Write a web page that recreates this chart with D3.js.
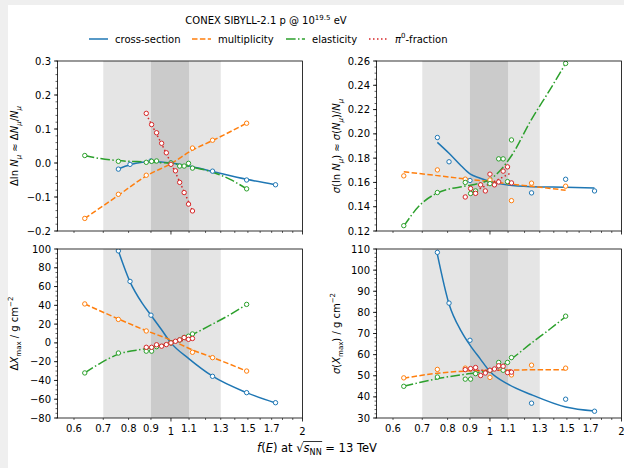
<!DOCTYPE html>
<html>
<head>
<meta charset="utf-8">
<script src="https://cdn.jsdelivr.net/npm/d3@7"></script>
<style>
  body { margin: 0; background: #efefef; }
  svg { display: block; font-family: "DejaVu Sans", sans-serif; }
</style>
</head>
<body>
<svg id="chart" width="624" height="468"></svg>
<script>
// ---- data ------------------------------------------------------------------
const seriesNames = ["cross-section", "multiplicity", "elasticity", "π0-fraction"];
const seriesColors = ["#1f77b4", "#ff7f0e", "#2ca02c", "#d62728"];

// f(E) of the simulated points for each modified quantity
const fSigma = [0.758, 0.806, 0.9, 1.0, 1.245, 1.49, 1.735];
const fMult = [0.635, 0.758, 0.878, 1.0, 1.12, 1.245, 1.49];
const fElast = [0.635, 0.758, 0.878, 0.903, 0.927, 1.0, 1.047, 1.072, 1.097, 1.12, 1.49];
const fPi0 = [0.878, 0.903, 0.927, 0.952, 0.976, 1.0, 1.024, 1.047, 1.072, 1.097, 1.12];

// f(E) knots of the fitted curves
const fitFSigma = [0.758, 0.806, 0.86, 0.9, 0.95, 1.0, 1.1, 1.245, 1.49, 1.735];
const fitFMult = [0.635, 0.758, 0.878, 1.0, 1.12, 1.245, 1.49];
const fitFElast = [0.635, 0.69, 0.758, 0.878, 0.94, 1.0, 1.05, 1.12, 1.245, 1.37, 1.49];
const fitFPi0 = [0.878, 1.0, 1.12];

// Delta ln N_mu
const lnNmuSigma = [-0.018, -0.004, 0.006, 0.0, -0.024, -0.050, -0.064];
const lnNmuMult = [-0.163, -0.092, -0.036, -0.002, 0.044, 0.067, 0.117];
const lnNmuElast = [0.022, 0.005, 0.002, 0.005, 0.006, 0.0, -0.009, -0.009, -0.001, -0.015, -0.076];
const lnNmuPi0 = [0.146, 0.113, 0.089, 0.058, 0.030, -0.004, -0.023, -0.057, -0.087, -0.121, -0.141];
const lnNmuSigmaFit = [-0.017, -0.005, 0.002, 0.004, 0.003, 0.0, -0.009, -0.025, -0.048, -0.064];
const lnNmuMultFit = [-0.163, -0.095, -0.038, -0.002, 0.038, 0.066, 0.117];
const lnNmuElastFit = [0.022, 0.013, 0.007, 0.003, 0.001, -0.001, -0.005, -0.012, -0.027, -0.049, -0.076];
const lnNmuPi0Fit = [0.143, 0.0, -0.140];

// sigma(ln N_mu)
const sdNmuSigma = [0.197, 0.177, 0.1616, 0.160, 0.1514, 0.1626, 0.153];
const sdNmuMult = [0.1654, 0.1703, 0.1627, 0.162, 0.145, 0.1594, 0.1569];
const sdNmuElast = [0.1244, 0.1517, 0.160, 0.1509, 0.153, 0.159, 0.1794, 0.1794, 0.1607, 0.195, 0.258];
const sdNmuPi0 = [0.148, 0.155, 0.151, 0.158, 0.153, 0.1668, 0.158, 0.1604, 0.1693, 0.1728, 0.1596];
const sdNmuSigmaFit = [0.193, 0.184, 0.1735, 0.167, 0.1635, 0.1608, 0.1578, 0.1565, 0.156, 0.1555];
const sdNmuMultFit = [0.1687, 0.1656, 0.1629, 0.1607, 0.1586, 0.1568, 0.1536];
const sdNmuElastFit = [0.124, 0.141, 0.1513, 0.157, 0.159, 0.1625, 0.169, 0.182, 0.212, 0.236, 0.258];
const sdNmuPi0Fit = [0.149, 0.159, 0.168];

// Delta Xmax
const xmaxSigma = [98, 65.5, 29.5, 0, -35.6, -53, -63.7];
const xmaxMult = [41.5, 25, 12.7, 0, -10, -15.7, -30];
const xmaxElast = [-32, -10.8, -8.8, -8.8, -4, 0, 3, 5.8, 7.1, 9.5, 41];
const xmaxPi0 = [-4.7, -4.7, -2, -3.5, -1.8, 0, 1.7, 3.2, 5.7, 3.8, 4.7];
const xmaxSigmaFit = [98, 65, 42, 29.5, 14.5, 0, -17, -35.5, -53, -64];
const xmaxMultFit = [41.5, 25.5, 13, 3, -7.5, -15.5, -30];
const xmaxElastFit = [-32, -21.5, -12, -6, -3, 0, 3.5, 9, 20, 30.5, 41];
const xmaxPi0Fit = [-5.5, 0, 4.5];

// sigma(Xmax)
const sdXmaxSigma = [108.4, 84.4, 66.8, 52.5, 37, 38.9, 33.2];
const sdXmaxMult = [49, 53, 53.6, 49.2, 50.4, 55, 53.6];
const sdXmaxElast = [45, 49.4, 48.4, 48.4, 51, 52.5, 56.3, 52.6, 56.3, 58.6, 78.2];
const sdXmaxPi0 = [52.9, 53.4, 53.9, 50.1, 51.3, 52.6, 53.2, 54.7, 54.5, 51.5, 51.7];
const sdXmaxSigmaFit = [107.5, 84, 71, 64.5, 58, 52, 46, 41, 35.2, 33.3];
const sdXmaxMultFit = [48.8, 51.2, 52.2, 52.5, 52.7, 52.8, 52.8];
const sdXmaxElastFit = [45, 46.8, 48.6, 50.7, 51.5, 52.5, 54, 58, 65.5, 72, 78];
const sdXmaxPi0Fit = [52.5, 52.6, 52.6];

// ticks
const xTickLabels = [0.6, 0.7, 0.8, 0.9, 1, 1.1, 1.3, 1.5, 1.7, 2];
const xMajorTicks = [1, 2];
const xMinorTicks = [0.6, 0.7, 0.8, 0.9, 1.1, 1.2, 1.3, 1.4, 1.5, 1.6, 1.7, 1.8, 1.9];
const yTicksLnNmu = [-0.2, -0.1, 0, 0.1, 0.2, 0.3];
const yTicksSdNmu = [0.12, 0.14, 0.16, 0.18, 0.20, 0.22, 0.24, 0.26];
const yTicksXmax = [-80, -60, -40, -20, 0, 20, 40, 60, 80, 100];
const yTicksSdXmax = [30, 40, 50, 60, 70, 80, 90, 100, 110];

// bands of the f(E) plausible ranges
const bandOuter = [0.7, 1.3];
const bandInner = [0.9, 1.1];

// ---- drawing ---------------------------------------------------------------
const W = 624, H = 468;
const FS = 10;
const svg = d3.select("#chart");

svg.append("rect").attr("x", 8).attr("y", 5)
  .attr("width", W - 8).attr("height", H - 5).attr("fill", "#fff");

// append text parts (italic / sub / sup) into a text element
function rich(text, parts, fs) {
  let shift = 0;
  parts.forEach((p) => {
    const ts = text.append("tspan").text(p.t);
    const target = p.sub ? fs * 0.3 : p.sup ? -fs * 0.42 : 0;
    if (target !== shift) {
      ts.attr("dy", target - shift);
      shift = target;
    }
    if (p.sub || p.sup) ts.attr("font-size", fs * 0.7);
    if (p.i) ts.attr("font-style", "italic");
  });
  return text;
}

const dashes = [null, "5.5,2.4", "9.6,2.4,1.5,2.4", "1.5,2.5"];

const panels = [
  {
    left: 57.5, top: 61, h: 170, yDomain: [-0.2, 0.3], ticks: yTicksLnNmu, minor: 0.02,
    fmt: d3.format(".1f"), labelX: 14, xLabels: false,
    label: [{ t: "Δln " }, { t: "N", i: 1 }, { t: "μ", i: 1, sub: 1 }, { t: " ≈ Δ" },
      { t: "N", i: 1 }, { t: "μ", i: 1, sub: 1 }, { t: "/" }, { t: "N", i: 1 }, { t: "μ", i: 1, sub: 1 }],
    pts: [lnNmuSigma, lnNmuMult, lnNmuElast, lnNmuPi0],
    fits: [lnNmuSigmaFit, lnNmuMultFit, lnNmuElastFit, lnNmuPi0Fit],
  },
  {
    left: 376.5, top: 61, h: 170, yDomain: [0.12, 0.26], ticks: yTicksSdNmu, minor: 0.005,
    fmt: d3.format(".2f"), labelX: 336, xLabels: false,
    label: [{ t: "σ", i: 1 }, { t: "(ln " }, { t: "N", i: 1 }, { t: "μ", i: 1, sub: 1 }, { t: ") ≈ " },
      { t: "σ", i: 1 }, { t: "(" }, { t: "N", i: 1 }, { t: "μ", i: 1, sub: 1 }, { t: ")/" },
      { t: "N", i: 1 }, { t: "μ", i: 1, sub: 1 }],
    pts: [sdNmuSigma, sdNmuMult, sdNmuElast, sdNmuPi0],
    fits: [sdNmuSigmaFit, sdNmuMultFit, sdNmuElastFit, sdNmuPi0Fit],
  },
  {
    left: 57.5, top: 249, h: 169, yDomain: [-80, 100], ticks: yTicksXmax, minor: 5,
    fmt: d3.format("d"), labelX: 14, xLabels: true,
    label: [{ t: "Δ" }, { t: "X", i: 1 }, { t: "max", sub: 1 }, { t: " / g cm" }, { t: "−2", sup: 1 }],
    pts: [xmaxSigma, xmaxMult, xmaxElast, xmaxPi0],
    fits: [xmaxSigmaFit, xmaxMultFit, xmaxElastFit, xmaxPi0Fit],
  },
  {
    left: 376.5, top: 249, h: 169, yDomain: [30, 110], ticks: yTicksSdXmax, minor: 2,
    fmt: d3.format("d"), labelX: 336, xLabels: true,
    label: [{ t: "σ", i: 1 }, { t: "(" }, { t: "X", i: 1 }, { t: "max", sub: 1 }, { t: ") / g cm" }, { t: "−2", sup: 1 }],
    pts: [sdXmaxSigma, sdXmaxMult, sdXmaxElast, sdXmaxPi0],
    fits: [sdXmaxSigmaFit, sdXmaxMultFit, sdXmaxElastFit, sdXmaxPi0Fit],
  },
];

const ptF = [fSigma, fMult, fElast, fPi0];
const fitF = [fitFSigma, fitFMult, fitFElast, fitFPi0];
const PW = 245;

panels.forEach((p, pi) => {
  const g = svg.append("g").attr("transform", `translate(${p.left},${p.top})`);
  const x = d3.scaleLog().domain([0.55, 2]).range([0, PW]);
  const y = d3.scaleLinear().domain(p.yDomain).range([p.h, 0]);

  const clipId = "clip" + pi;
  g.append("clipPath").attr("id", clipId)
    .append("rect").attr("width", PW).attr("height", p.h);
  const plot = g.append("g").attr("clip-path", `url(#${clipId})`);

  plot.append("rect").attr("x", x(bandOuter[0])).attr("width", x(bandOuter[1]) - x(bandOuter[0]))
    .attr("height", p.h).attr("fill", "#e5e5e5");
  plot.append("rect").attr("x", x(bandInner[0])).attr("width", x(bandInner[1]) - x(bandInner[0]))
    .attr("height", p.h).attr("fill", "#cbcbcb");

  const line = d3.line().x((d) => x(d[0])).y((d) => y(d[1])).curve(d3.curveMonotoneX);

  p.fits.forEach((vals, si) => {
    plot.append("path")
      .datum(vals.map((v, k) => [fitF[si][k], v]))
      .attr("d", line)
      .attr("fill", "none")
      .attr("stroke", seriesColors[si])
      .attr("stroke-width", 1.5)
      .attr("stroke-dasharray", dashes[si]);
  });
  p.pts.forEach((vals, si) => {
    plot.selectAll(null)
      .data(vals.map((v, k) => [ptF[si][k], v]))
      .join("circle")
      .attr("cx", (d) => x(d[0]))
      .attr("cy", (d) => y(d[1]))
      .attr("r", 2.2)
      .attr("fill", "#fff")
      .attr("stroke", seriesColors[si])
      .attr("stroke-width", 1);
  });

  // frame
  g.append("rect").attr("width", PW).attr("height", p.h)
    .attr("fill", "none").attr("stroke", "#000").attr("stroke-width", 0.8);

  // y ticks
  const [lo, hi] = p.yDomain;
  d3.range(Math.round((hi - lo) / p.minor) + 1).forEach((k) => {
    const v = lo + k * p.minor;
    g.append("line").attr("x1", -2).attr("x2", 0)
      .attr("y1", y(v)).attr("y2", y(v)).attr("stroke", "#000").attr("stroke-width", 0.6);
  });
  p.ticks.forEach((v) => {
    g.append("line").attr("x1", -3.5).attr("x2", 0)
      .attr("y1", y(v)).attr("y2", y(v)).attr("stroke", "#000").attr("stroke-width", 0.8);
    g.append("text").attr("x", -6.5).attr("y", y(v)).attr("dy", "0.35em")
      .attr("text-anchor", "end").attr("font-size", FS).attr("fill", "#000")
      .text(p.fmt(v));
  });

  // x ticks
  xMinorTicks.forEach((v) => {
    g.append("line").attr("x1", x(v)).attr("x2", x(v)).attr("y1", p.h).attr("y2", p.h + 2)
      .attr("stroke", "#000").attr("stroke-width", 0.6);
  });
  xMajorTicks.forEach((v) => {
    g.append("line").attr("x1", x(v)).attr("x2", x(v)).attr("y1", p.h).attr("y2", p.h + 3.5)
      .attr("stroke", "#000").attr("stroke-width", 0.8);
  });
  if (p.xLabels) {
    xTickLabels.forEach((v) => {
      const major = xMajorTicks.includes(v);
      g.append("text").attr("x", x(v)).attr("y", p.h + (major ? 16.5 : 13.8))
        .attr("text-anchor", "middle").attr("font-size", FS).attr("fill", "#000")
        .text(v);
    });
  }

  // y label
  rich(svg.append("text")
    .attr("transform", `translate(${p.labelX},${p.top + p.h / 2}) rotate(-90)`)
    .attr("text-anchor", "middle").attr("dy", "0.35em")
    .attr("font-size", FS).attr("fill", "#000"), p.label, FS);
});

// title
rich(svg.append("text").attr("x", 266).attr("y", 24)
  .attr("text-anchor", "middle").attr("font-size", FS).attr("fill", "#000"),
  [{ t: "CONEX SIBYLL-2.1 p @ 10" }, { t: "19.5", sup: 1 }, { t: " eV" }], FS);

// legend
const legendX = [89, 192, 286, 369];
seriesNames.forEach((name, si) => {
  const lx = legendX[si];
  svg.append("line").attr("x1", lx).attr("x2", lx + 19).attr("y1", 39).attr("y2", 39)
    .attr("stroke", seriesColors[si]).attr("stroke-width", 1.5)
    .attr("stroke-dasharray", dashes[si]);
  const t = svg.append("text").attr("x", lx + 26).attr("y", 42.5)
    .attr("font-size", FS).attr("fill", "#000");
  if (si === 3) rich(t, [{ t: "π", i: 1 }, { t: "0", sup: 1 }, { t: "-fraction" }], FS);
  else t.text(name);
});

// x label
const XFS = 11.5;
const xl = rich(svg.append("text").attr("x", 317).attr("y", 452)
  .attr("text-anchor", "middle").attr("font-size", XFS).attr("fill", "#000"),
  [{ t: "f", i: 1 }, { t: "(" }, { t: "E", i: 1 }, { t: ") at √" }, { t: "s", i: 1 },
   { t: "NN", sub: 1 }, { t: " = 13 TeV" }], XFS);
// overline of the square root
const spans = xl.selectAll("tspan").nodes();
const b1 = spans[4].getBBox(), b2 = spans[5].getBBox();
svg.append("line").attr("x1", b1.x - 0.5).attr("x2", b2.x + b2.width + 0.5)
  .attr("y1", b1.y + 0.5).attr("y2", b1.y + 0.5)
  .attr("stroke", "#000").attr("stroke-width", 0.8);
</script>
</body>
</html>
